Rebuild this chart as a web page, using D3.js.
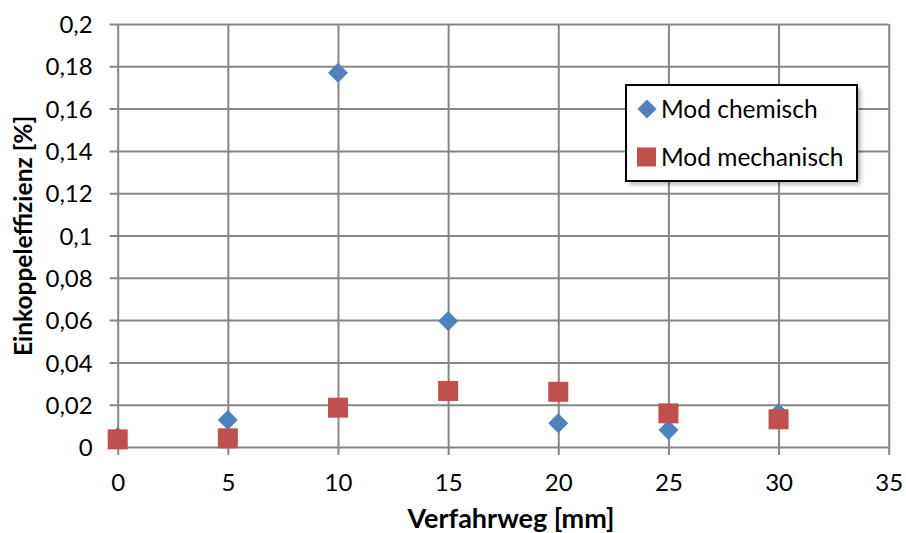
<!DOCTYPE html>
<html><head><meta charset="utf-8">
<script src="https://cdn.jsdelivr.net/npm/d3@7"></script>
<style>body{margin:0;background:#fff}svg{display:block}text{font-family:Lato,"Open Sans",sans-serif}</style>
</head><body>
<svg id="c" width="906" height="533"></svg>
<script>
const xValues = [0, 5, 10, 15, 20, 25, 30];
const chemisch = [0.0047, 0.0128, 0.177, 0.0596, 0.0112, 0.008, 0.016];
const mechanisch = [0.0036, 0.0041, 0.0186, 0.0265, 0.0261, 0.0159, 0.0131];
const seriesNames = ["Mod chemisch", "Mod mechanisch"];
const xTicks = [0, 5, 10, 15, 20, 25, 30, 35];
const yTicks = [0, 0.02, 0.04, 0.06, 0.08, 0.1, 0.12, 0.14, 0.16, 0.18, 0.2];
const colors = ["#4F81BD", "#C0504D"];

const svg = d3.select("#c");
const defs = svg.append("defs");
const f = defs.append("filter").attr("id", "sh").attr("x", "-10%").attr("y", "-10%").attr("width", "130%").attr("height", "140%");
f.append("feGaussianBlur").attr("stdDeviation", 2.5);

const x = d3.scaleLinear().domain([0, 35]).range([117.7, 888.7]);
const y = d3.scaleLinear().domain([0, 0.2]).range([447, 24]);
const grid = "#868686";
const fmt = d => String(+d.toFixed(2)).replace(".", ",");

const gx = svg.append("g").attr("transform", "translate(0,447)")
  .call(d3.axisBottom(x).tickValues(xTicks).tickSize(8).tickFormat(d => d));
gx.select(".domain").remove();
gx.selectAll(".tick line").attr("stroke", grid).attr("stroke-width", 2)
  .attr("y1", -(447 - 24)).attr("y2", 8);
gx.selectAll(".tick text").attr("fill", "#000").style("font-size", "24px")
  .attr("y", 27).attr("dy", "0.71em");

const gy = svg.append("g").attr("transform", "translate(117.7,0)")
  .call(d3.axisLeft(y).tickValues(yTicks).tickSize(8).tickFormat(fmt));
gy.select(".domain").remove();
gy.selectAll(".tick line").attr("stroke", grid).attr("stroke-width", 2)
  .attr("x1", 888.7 - 117.7).attr("x2", -8);
gy.selectAll(".tick text").attr("fill", "#000").style("font-size", "24px")
  .attr("x", -25).attr("dy", "0.36em");

const diamond = d3.symbol().type(d3.symbolSquare).size(200);
svg.append("g").selectAll("path").data(xValues).join("path")
  .attr("d", diamond)
  .attr("transform", (d, i) => `translate(${x(d)},${y(chemisch[i])}) rotate(45)`)
  .attr("fill", colors[0]);
svg.append("g").selectAll("rect").data(xValues).join("rect")
  .attr("x", d => x(d) - 10).attr("y", (d, i) => y(mechanisch[i]) - 10)
  .attr("width", 20).attr("height", 20).attr("fill", colors[1]);

svg.append("text").attr("x", 511).attr("y", 528).attr("text-anchor", "middle")
  .style("font-size", "27px").style("font-weight", "bold").text("Verfahrweg [mm]");
svg.append("text").attr("transform", "translate(32,236) rotate(-90)").attr("text-anchor", "middle")
  .style("font-size", "24.5px").style("font-weight", "bold").text("Einkoppeleffizienz [%]");

const lg = svg.append("g");
lg.append("rect").attr("x", 629).attr("y", 88).attr("width", 231).attr("height", 96)
  .attr("fill", "#000").attr("opacity", 0.35).attr("filter", "url(#sh)");
lg.append("rect").attr("x", 626).attr("y", 85).attr("width", 231).attr("height", 96)
  .attr("fill", "#fff").attr("stroke", "#000").attr("stroke-width", 2);
const ly = [109, 157];
seriesNames.forEach((n, i) => {
  if (i === 0) {
    lg.append("path").attr("d", d3.symbol().type(d3.symbolSquare).size(180)())
      .attr("transform", `translate(647,${ly[i]}) rotate(45)`).attr("fill", colors[0]);
  } else {
    lg.append("rect").attr("x", 637).attr("y", ly[i] - 9.5).attr("width", 19).attr("height", 19)
      .attr("fill", colors[1]);
  }
  lg.append("text").attr("x", 661).attr("y", ly[i]).attr("dy", "0.36em")
    .style("font-size", "24.5px").text(n);
});
</script>
</body></html>
